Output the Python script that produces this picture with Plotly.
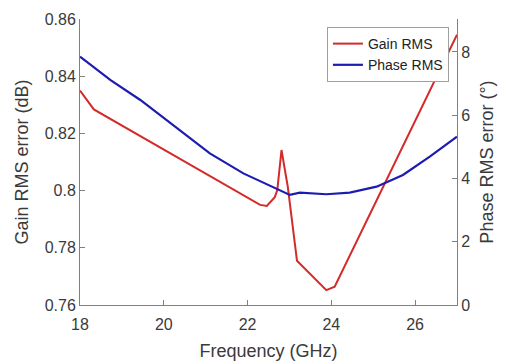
import plotly.graph_objects as go

# Gain RMS error (dB), left axis
gain_freq = [18.0, 18.33, 22.30, 22.46, 22.65, 22.71, 22.81, 22.96, 23.18, 23.40, 23.88, 24.08, 27.0]
gain_rms = [0.835, 0.8284, 0.795, 0.7946, 0.7977, 0.8002, 0.8142, 0.8014, 0.7755, 0.7722, 0.7652, 0.7664, 0.8545]

# Phase RMS error (deg), right axis
phase_freq = [18.0, 18.73, 19.44, 20.31, 21.10, 21.90, 22.61, 23.01, 23.25, 23.88, 24.44, 25.08, 25.71, 26.35, 27.0]
phase_rms = [7.85, 7.11, 6.48, 5.58, 4.79, 4.16, 3.74, 3.48, 3.55, 3.50, 3.55, 3.74, 4.11, 4.69, 5.32]

x_ticks = [18, 20, 22, 24, 26]
y1_ticks = [0.76, 0.78, 0.80, 0.82, 0.84, 0.86]
y1_labels = ["0.76", "0.78", "0.8", "0.82", "0.84", "0.86"]
y2_ticks = [0, 2, 4, 6, 8]

FONT = "Liberation Sans, Arial, sans-serif"
TXT = "#3a3a3a"
AX = "#808080"

fig = go.Figure()
fig.add_trace(go.Scatter(x=gain_freq, y=gain_rms, mode="lines", name="Gain RMS",
                         line=dict(color="#d42a2a", width=2), yaxis="y"))
fig.add_trace(go.Scatter(x=phase_freq, y=phase_rms, mode="lines", name="Phase RMS",
                         line=dict(color="#1c1cb0", width=2.2), yaxis="y2"))

# page body has an 8px margin, so the figure is shrunk/offset accordingly
fig.update_layout(
    width=499, height=355,
    margin=dict(l=72, r=50, t=11, b=58, autoexpand=False),
    paper_bgcolor="white", plot_bgcolor="white",
    font=dict(family=FONT, color=TXT, size=16),
    showlegend=True,
    legend=dict(x=0.655, y=0.972, xanchor="left", yanchor="top",
                bgcolor="white", bordercolor="#a0a0a0", borderwidth=1,
                font=dict(size=14, color="#222"), tracegroupgap=0,
                itemwidth=30),
    xaxis=dict(range=[18, 27], tickvals=x_ticks, ticks="inside", ticklen=5,
               tickcolor=AX, showline=True, linecolor=AX, linewidth=1,
               showgrid=False, zeroline=False, mirror=False, automargin=False,
               ticklabelstandoff=5,
               tickfont=dict(size=16, color=TXT),
               title=dict(text="Frequency (GHz)", font=dict(size=18, color=TXT), standoff=12)),
    yaxis=dict(range=[0.76, 0.86], tickvals=y1_ticks, ticktext=y1_labels,
               ticks="inside", ticklen=5, tickcolor=AX, showline=True,
               linecolor=AX, linewidth=1, showgrid=False, zeroline=False,
               automargin=False,
               tickfont=dict(size=16, color=TXT),
               title=dict(text="Gain RMS error (dB)", font=dict(size=18, color=TXT), standoff=11)),
    yaxis2=dict(range=[0, 9.04], tickvals=y2_ticks, overlaying="y", side="right",
                ticks="inside", ticklen=5, tickcolor=AX, showline=True,
                linecolor=AX, linewidth=1, showgrid=False, zeroline=False,
                automargin=False,
                tickfont=dict(size=16, color=TXT),
                title=dict(text="Phase RMS error (°)", font=dict(size=18, color=TXT), standoff=11)),
)

fig.write_html("out.html")
